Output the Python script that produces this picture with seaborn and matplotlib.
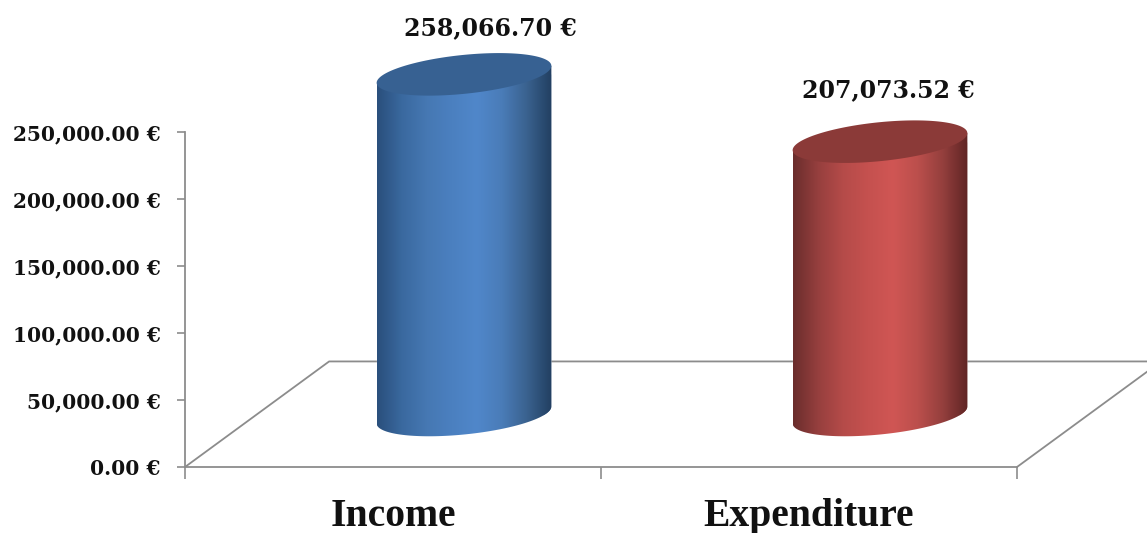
import numpy as np
import matplotlib
matplotlib.use('Agg')
import matplotlib.pyplot as plt
from matplotlib.colors import LinearSegmentedColormap
from matplotlib.patches import Polygon
import seaborn as sns

# chart values
categories = ['Income', 'Expenditure']
amounts = [258066.70, 207073.52]
y_ticks = [0, 50000, 100000, 150000, 200000, 250000]

# colours
side_colors = [
    ['#2a4f7c', '#3a699f', '#4678b3', '#4b80c0', '#5087ca', '#4a7cb8', '#3a628f', '#223f61'],
    ['#6a2d2c', '#963f3e', '#b54b49', '#c5514f', '#d05654', '#bb4f4c', '#943f3d', '#602524'],
]
top_colors = ['#376192', '#8b3a38']
grey = '#8c8c8c'

sns.set_theme(style='white')
plt.rcParams['font.family'] = ['DejaVu Serif']

W, H = 1147, 533
fig = plt.figure(figsize=(W / 100, H / 100), dpi=100)

# front axes holds the value axis, the back one (half way into the floor) the cylinders
ax = fig.add_axes([185 / W, 66 / H, 832 / W, 335 / H])
ax_back = fig.add_axes([256 / W, 118 / H, 832 / W, 330 / H])
ax_back.patch.set_alpha(0)

sns.barplot(x=categories, y=amounts, hue=categories, palette=top_colors,
            width=0.42, legend=False, saturation=1, ax=ax_back)

ax.set_xlim(-0.5, 1.5)
ax.set_ylim(0, 250000)
ax.set_yticks(y_ticks)
ax.set_yticklabels([f'{v:,.2f} €' for v in y_ticks], fontsize=14.5, fontweight='bold', color='#111111')
ax.set_xticks([-0.5, 0.5, 1.5])
ax.set_xticklabels([])
ax.set_xticks([0, 1], minor=True)
ax.set_xticklabels(categories, minor=True, fontsize=28.5, fontweight='bold',
                   family='Liberation Serif', color='#111111')
ax.tick_params(axis='y', length=5.5, width=1.2, color=grey, pad=12, left=True)
ax.tick_params(axis='x', which='major', length=8.5, width=1.2, color=grey, bottom=True)
ax.tick_params(axis='x', which='minor', length=0, pad=22.5)
for side in ['top', 'right']:
    ax.spines[side].set_visible(False)
for side in ['left', 'bottom']:
    ax.spines[side].set_color(grey)
    ax.spines[side].set_linewidth(1.3)
ax.grid(False)

# floor of the 3D box, depth is about twice the shift of the back axes
shift = (ax_back.transData.transform((0, 0)) - ax.transData.transform((0, 0)))
floor_back = ax.transData.inverted().transform(ax.transData.transform([(-0.5, 0), (1.5, 0)]) + 2.03 * shift)
ax.plot([-0.5, floor_back[0, 0], floor_back[1, 0], 1.5],
        [0, floor_back[0, 1], floor_back[1, 1], 0],
        color=grey, lw=1.3, clip_on=False, zorder=1)

ax_back.set_xlim(-0.5, 1.5)
ax_back.set_ylim(0, 250000)
ax_back.axis('off')

# ellipse sizes in data units of the back axes
ry = 19.5 * 250000 / 330
tilt = 8.5 * 250000 / 330
gradient_dir = np.linspace(0, 1, 256).reshape(1, -1)

for i, bar in enumerate(ax_back.patches):
    x0 = bar.get_x()
    rx = bar.get_width() / 2
    cx = x0 + rx
    h = bar.get_height()
    t_low = np.linspace(np.pi, 2 * np.pi, 80)
    t_all = np.linspace(0, 2 * np.pi, 160)

    # side of the cylinder
    low = np.column_stack([cx + rx * np.cos(t_low), tilt * np.cos(t_low) + ry * np.sin(t_low)])
    up = np.array([[x0 + 2 * rx, h + tilt], [x0, h - tilt]])
    body = Polygon(np.vstack([low, up]), closed=True, transform=ax_back.transData)
    cmap = LinearSegmentedColormap.from_list(categories[i], side_colors[i])
    im = ax_back.imshow(gradient_dir, cmap=cmap, aspect='auto', zorder=3,
                        extent=[x0, x0 + 2 * rx, -2 * ry, h + 2 * ry])
    im.set_clip_path(body)
    im.set_clip_box(fig.bbox)
    bar.set_clip_path(body)
    bar.set_clip_box(fig.bbox)

    # lid
    lid = np.column_stack([cx + rx * np.cos(t_all), h + tilt * np.cos(t_all) + ry * np.sin(t_all)])
    ax_back.add_patch(Polygon(lid, closed=True, facecolor=top_colors[i], edgecolor='none',
                              zorder=4, clip_on=False))

ax_back.set_xlim(-0.5, 1.5)
ax_back.set_ylim(0, 250000)

# value labels above the lids
label_shift = [(19, 33), (6, 37)]
for bar, val, off in zip(ax_back.patches, amounts, label_shift):
    ax_back.annotate(f'{val:,.2f} €', (bar.get_x() + bar.get_width() / 2, val),
                     xytext=off, textcoords='offset points', ha='center', va='center',
                     fontsize=17, fontweight='bold', color='#111111', annotation_clip=False)

plt.savefig('out.png', dpi=100)
